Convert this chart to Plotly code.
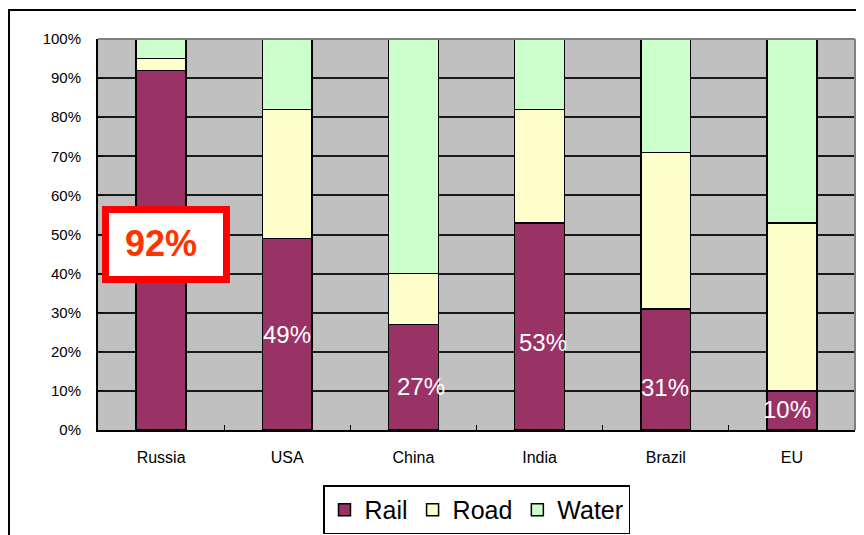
import plotly.graph_objects as go

countries = ["Russia", "USA", "China", "India", "Brazil", "EU"]
rail = [92, 49, 27, 53, 31, 10]
road = [3, 33, 13, 29, 40, 43]
water = [5, 18, 60, 18, 29, 47]
y_ticks = [0, 10, 20, 30, 40, 50, 60, 70, 80, 90, 100]

FONT = "Liberation Sans, Arial, sans-serif"
colors = {"Rail": "#993366", "Road": "#FFFFCC", "Water": "#CCFFCC"}

fig = go.Figure()
for name, vals in [("Rail", rail), ("Road", road), ("Water", water)]:
    fig.add_trace(go.Bar(
        name=name, x=countries, y=vals,
        marker=dict(color=colors[name], line=dict(color="black", width=1.5)),
    ))

# white in-bar labels for Rail (Russia is highlighted by the callout box)
label_yshift = [0, 0, -9, -16, -18, 1]
label_xshift = [0, 0, 8, 3, -1, -5]
for i, (c, v) in enumerate(zip(countries, rail)):
    if i == 0:
        continue
    fig.add_annotation(x=c, y=v / 2, text=f"{v}%", showarrow=False,
                       xshift=label_xshift[i], yshift=label_yshift[i],
                       xanchor="center", yanchor="middle",
                       font=dict(family=FONT, size=24, color="white"))

# callout box for Russia
fig.add_shape(type="rect", xref="paper", yref="paper",
              x0=0.0099, x1=0.1697, y0=0.385, y1=0.564,
              line=dict(color="#FF0000", width=7), fillcolor="white", layer="above")
fig.add_annotation(xref="paper", yref="paper", x=0.0832, y=0.478,
                   xanchor="center", yanchor="middle",
                   text=f"<b>{rail[0]}%</b>", showarrow=False,
                   font=dict(family=FONT, size=36, color="#FF3300"))

# top/right plot-area border (gray)
fig.add_shape(type="line", xref="paper", yref="paper", x0=0, x1=1, y0=1, y1=1,
              line=dict(color="#808080", width=2))
fig.add_shape(type="line", xref="paper", yref="paper", x0=1, x1=1, y0=0, y1=1,
              line=dict(color="#808080", width=2))

# outer chart border
fig.add_shape(type="rect", xref="paper", yref="paper",
              x0=-0.1176, x1=1.05, y0=-0.35, y1=1.0742,
              line=dict(color="black", width=2))

fig.update_layout(
    width=856, height=527,
    margin=dict(l=90, r=9, t=31, b=105, autoexpand=False),
    barmode="stack", bargap=0.604,
    plot_bgcolor="#C0C0C0", paper_bgcolor="white",
    font=dict(family=FONT, color="black"),
    showlegend=True,
    legend=dict(orientation="h", xref="paper", x=0.5, xanchor="center",
                yref="container", y=0.094, yanchor="top",
                bordercolor="black", borderwidth=1.5, bgcolor="white",
                font=dict(family=FONT, size=25), traceorder="normal"),
    xaxis=dict(showgrid=False, showline=True, linecolor="black", linewidth=2,
               ticks="inside", tickson="boundaries", ticklen=5, tickcolor="black",
               tickfont=dict(family=FONT, size=16), ticklabelstandoff=12,
               automargin=False),
    yaxis=dict(range=[0, 100], tickvals=y_ticks, ticktext=[f"{t}%" for t in y_ticks],
               showgrid=True, gridcolor="#1a1a1a", gridwidth=2,
               showline=True, linecolor="black", linewidth=2, zeroline=False,
               ticks="inside", ticklen=5, tickcolor="black",
               tickfont=dict(family=FONT, size=15), ticklabelstandoff=12,
               automargin=False),
)

fig.write_html("out.html")
